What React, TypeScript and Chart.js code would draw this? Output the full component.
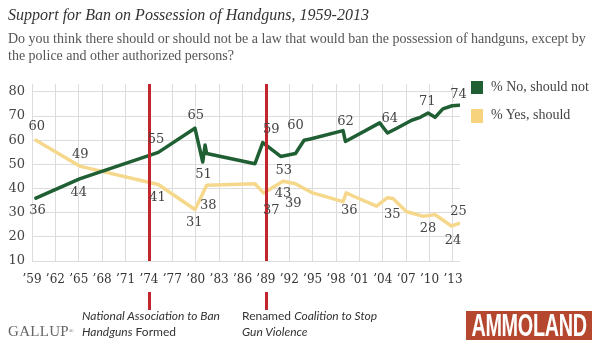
import React, { useEffect, useRef } from "react";
import { Chart, registerables } from "chart.js";

Chart.register(...registerables);

// ---------- data ----------
const noYears = [1959.5, 1965.1, 1975.2, 1979.9, 1980.9, 1981.2, 1981.4, 1987.6, 1988.6, 1990.9, 1992.8, 1993.9, 1994.7, 1998.9, 1999.2, 2003.6, 2004.6, 2005.8, 2007.7, 2008.8, 2009.8, 2010.7, 2011.7, 2012.9, 2013.8];
const noValues = [36, 44, 55, 65, 51, 58, 54.5, 50.3, 59, 53.3, 54.5, 60, 60.5, 64, 59.5, 67.2, 63, 65, 68.3, 69.5, 71.3, 69.5, 73, 74.3, 74.5];

const yesYears = [1959.5, 1965.1, 1975.2, 1979.9, 1980.9, 1981.4, 1987.6, 1988.7, 1991.2, 1992.8, 1993.9, 1995.0, 1998.9, 1999.3, 2000.4, 2003.2, 2004.6, 2005.3, 2007.0, 2009.2, 2010.7, 2011.6, 2012.8, 2013.8];
const yesValues = [60, 49.3, 41.7, 31.3, 38, 41.4, 42, 38.2, 43, 42, 40, 38.2, 34.6, 38.2, 36.6, 32.7, 36.2, 35.9, 30.5, 28.5, 29.2, 27.2, 24.5, 25.6];

const xTickYears = [1959, 1962, 1965, 1968, 1971, 1974, 1977, 1980, 1983, 1986, 1989, 1992, 1995, 1998, 2001, 2004, 2007, 2010, 2013];
const xTickLabels = ["’59", "’62", "’65", "’68", "’71", "’74", "’77", "’80", "’83", "’86", "’89", "’92", "’95", "’98", "’01", "’04", "’07", "’10", "’13"];
const yTickValues = [10, 20, 30, 40, 50, 60, 70, 80];

const eventYears = [1974, 1989];

// value labels: text, year, value (label centre in data units)
const labelTexts = ["60", "36", "49", "44", "55", "41", "65", "51", "38", "31", "59", "37", "53", "43", "39", "60", "62", "36", "64", "35", "71", "28", "74", "25", "24"];
const labelYears = [1959.6, 1959.7, 1965.2, 1965.0, 1974.9, 1975.1, 1980.0, 1981.0, 1981.6, 1979.8, 1989.7, 1989.7, 1991.3, 1991.2, 1992.5, 1992.8, 1999.2, 1999.7, 2004.9, 2005.2, 2009.7, 2009.8, 2013.7, 2013.7, 2013.0];
const labelValues = [65.6, 30.7, 53.9, 38.2, 60.1, 36.3, 70, 45.6, 33.1, 25.8, 64.2, 31.0, 47.6, 37.7, 33.8, 65.9, 67.7, 30.7, 69.1, 29.4, 76, 23.4, 78.8, 30.3, 18.6];

const GREEN = "#1f5f33";
const YELLOW = "#f5d88c";
const RED = "#c0262c";

const eventPlugin = {
  id: "events",
  afterDatasetsDraw(chart: any) {
    const { ctx, chartArea, scales } = chart;
    const xs = scales.x;
    const ys = scales.y;
    ctx.save();
    ctx.strokeStyle = RED;
    ctx.lineWidth = 3;
    eventYears.forEach((yr) => {
      const x = Math.round(xs.getPixelForValue(yr)) + 0.5;
      ctx.beginPath();
      ctx.moveTo(x, chartArea.top);
      ctx.lineTo(x, chartArea.bottom);
      ctx.stroke();
      ctx.beginPath();
      ctx.moveTo(x, chartArea.bottom + 31);
      ctx.lineTo(x, chartArea.bottom + 49);
      ctx.stroke();
    });
    ctx.fillStyle = "#444";
    ctx.font = "13px 'DejaVu Serif', 'Liberation Serif', serif";
    ctx.textAlign = "center";
    ctx.textBaseline = "middle";
    labelTexts.forEach((t, i) => {
      ctx.fillText(t, xs.getPixelForValue(labelYears[i]), ys.getPixelForValue(labelValues[i]));
    });
    ctx.restore();
  },
};

export default function App() {
  const ref = useRef<HTMLCanvasElement | null>(null);

  useEffect(() => {
    if (!ref.current) return;
    const chart = new Chart(ref.current, {
      type: "line",
      data: {
        datasets: [
          {
            label: "% No, should not",
            data: noYears.map((y, i) => ({ x: y, y: noValues[i] })),
            borderColor: GREEN,
            borderWidth: 3.5,
            pointRadius: 0,
            tension: 0,
            borderJoinStyle: "round",
            borderCapStyle: "round",
          },
          {
            label: "% Yes, should",
            data: yesYears.map((y, i) => ({ x: y, y: yesValues[i] })),
            borderColor: YELLOW,
            borderWidth: 3.5,
            pointRadius: 0,
            tension: 0,
            borderJoinStyle: "round",
            borderCapStyle: "round",
          },
        ],
      },
      options: {
        animation: false,
        responsive: false,
        devicePixelRatio: 1,
        layout: { padding: { top: 84, right: 140, left: 0, bottom: 59 } },
        plugins: { legend: { display: false }, tooltip: { enabled: false } },
        scales: {
          x: {
            type: "linear",
            min: 1959,
            max: 2013.9,
            afterBuildTicks: (s: any) => {
              s.ticks = xTickYears.map((v) => ({ value: v }));
            },
            afterFit: (s: any) => {
              s.height = 30;
            },
            grid: { color: "#dcdcdc", drawTicks: false },
            border: { display: false },
            ticks: {
              autoSkip: false,
              maxRotation: 0,
              padding: 12,
              color: "#333",
              font: { family: "'DejaVu Serif', 'Liberation Serif', serif", size: 12 },
              callback: (v: any) => xTickLabels[xTickYears.indexOf(v)],
            },
          },
          y: {
            min: 10,
            max: 83.3,
            afterBuildTicks: (s: any) => {
              s.ticks = yTickValues.map((v) => ({ value: v }));
            },
            afterFit: (s: any) => {
              s.width = 32;
            },
            grid: { color: "#dcdcdc", drawTicks: false },
            border: { display: false },
            ticks: {
              padding: 7,
              color: "#444",
              font: { family: "'DejaVu Serif', 'Liberation Serif', serif", size: 13 },
            },
          },
        },
      },
      plugins: [eventPlugin],
    } as any);
    return () => chart.destroy();
  }, []);

  const abs = (o: any): React.CSSProperties => ({ position: "absolute", margin: 0, whiteSpace: "nowrap", ...o });
  const annoFont = "Lato, 'Open Sans', sans-serif";

  return (
    <div style={{ position: "fixed", left: 0, top: 0, width: 600, height: 350, background: "#fff", overflow: "hidden" }}>
      <canvas ref={ref} width={600} height={350} style={{ position: "absolute", left: 0, top: 0, width: 600, height: 350 }} />
      <div style={abs({ left: 8, top: 5, fontFamily: "'Liberation Serif', serif", fontStyle: "italic", fontSize: 16, lineHeight: "20px", color: "#333" })}>
        Support for Ban on Possession of Handguns, 1959-2013
      </div>
      <div style={abs({ left: 8, top: 30, fontFamily: "'Liberation Serif', serif", fontSize: 14, lineHeight: "17px", color: "#555" })}>
        Do you think there should or should not be a law that would ban the possession of handguns, except by
        <br />
        the police and other authorized persons?
      </div>
      <div style={abs({ left: 471, top: 81, width: 12, height: 13, background: GREEN })} />
      <div style={abs({ left: 491, top: 78, fontFamily: "'Liberation Serif', serif", fontSize: 14, lineHeight: "17px", color: "#444" })}>% No, should not</div>
      <div style={abs({ left: 471, top: 109, width: 12, height: 14, background: "#f6d37c" })} />
      <div style={abs({ left: 491, top: 106, fontFamily: "'Liberation Serif', serif", fontSize: 14, lineHeight: "17px", color: "#444" })}>% Yes, should</div>

      <div style={abs({ left: 82, top: 308, fontFamily: annoFont, fontSize: 12, lineHeight: "16px", color: "#333" })}>
        <i>National Association to Ban</i>
        <br />
        <i>Handguns</i> Formed
      </div>
      <div style={abs({ left: 242, top: 308, fontFamily: annoFont, fontSize: 12, lineHeight: "16px", color: "#333" })}>
        Renamed <i>Coalition to Stop</i>
        <br />
        <i>Gun Violence</i>
      </div>
      <div style={abs({ left: 8, top: 323, fontFamily: "'Liberation Serif', serif", fontSize: 15, lineHeight: "16px", letterSpacing: 0.3, color: "#666" })}>
        GALLUP<span style={{ fontSize: 6, verticalAlign: "top" }}>®</span>
      </div>
      <div style={abs({ left: 466, top: 311, width: 126, height: 29, background: "#b4472e", overflow: "hidden", display: "flex", alignItems: "center", justifyContent: "center" })}>
        <span style={{ display: "inline-block", color: "#fff", fontFamily: "'Liberation Sans', 'DejaVu Sans', sans-serif", fontWeight: 700, fontSize: 32, lineHeight: "29px", transform: "scaleX(0.62)", transformOrigin: "center", letterSpacing: -0.5 }}>
          AMMOLAND
        </span>
      </div>
    </div>
  );
}
